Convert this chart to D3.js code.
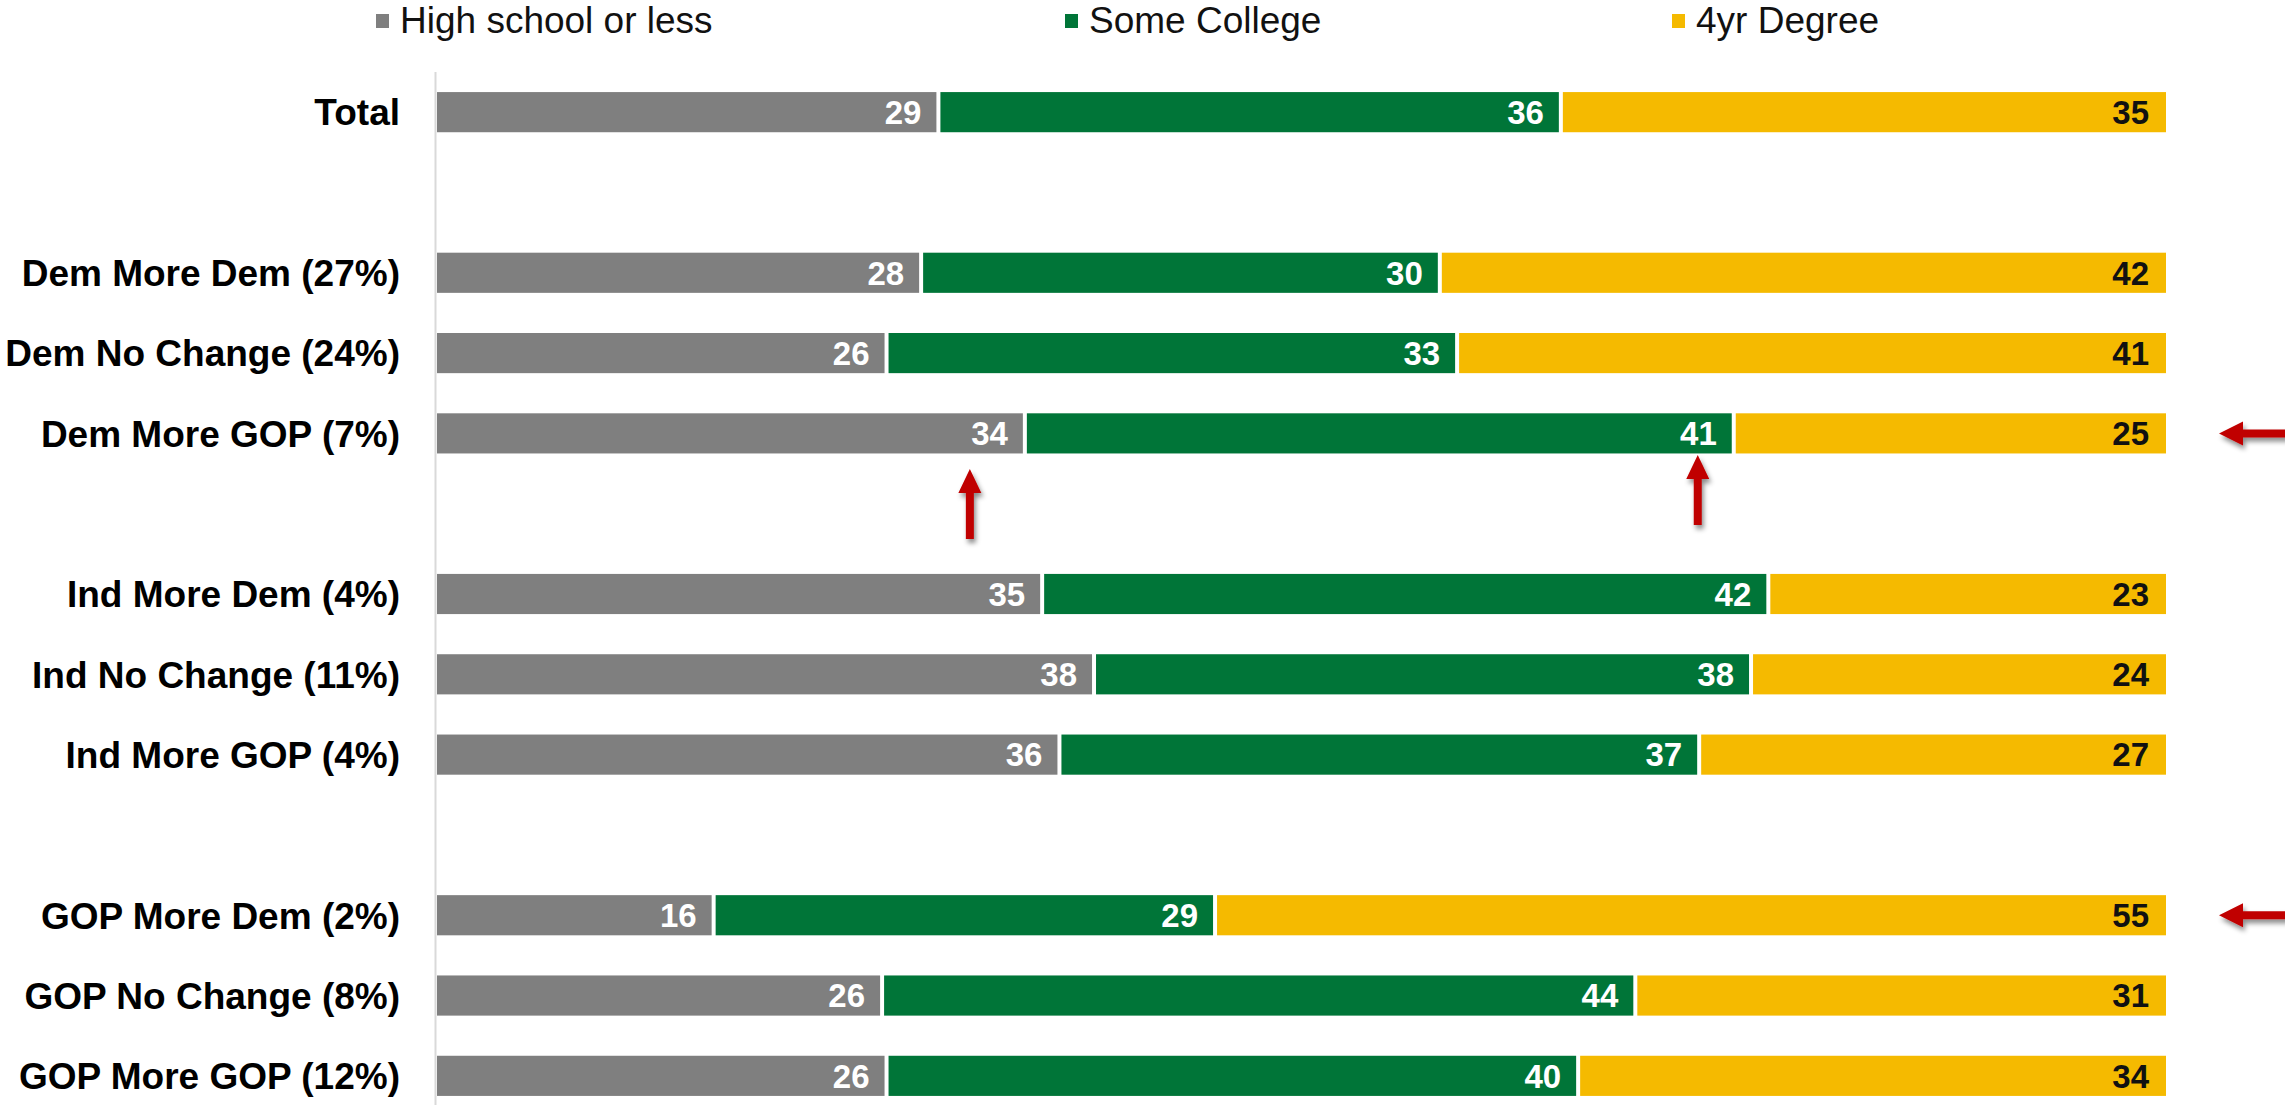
<!DOCTYPE html>
<html>
<head>
<meta charset="utf-8">
<script src="https://cdn.jsdelivr.net/npm/d3@7"></script>
<style>
  html, body { margin: 0; padding: 0; background: #fff; }
  svg { display: block; font-family: Arial, "Liberation Sans", Helvetica, sans-serif; }
</style>
</head>
<body>
<svg id="chart" width="2285" height="1105"></svg>
<script>
// ---- data ----
const categories = [
  "Total", "",
  "Dem More Dem (27%)", "Dem No Change (24%)", "Dem More GOP (7%)", " ",
  "Ind More Dem (4%)", "Ind No Change (11%)", "Ind More GOP (4%)", "  ",
  "GOP More Dem (2%)", "GOP No Change (8%)", "GOP More GOP (12%)"
];
const seriesNames = ["High school or less", "Some College", "4yr Degree"];
const highSchool = [29, null, 28, 26, 34, null, 35, 38, 36, null, 16, 26, 26];
const someCollege = [36, null, 30, 33, 41, null, 42, 38, 37, null, 29, 44, 40];
const fourYear   = [35, null, 42, 41, 25, null, 23, 24, 27, null, 55, 31, 34];
const seriesColors = ["#7F7F7F", "#007538", "#F5BA00"];
const labelColors = ["#ffffff", "#ffffff", "#111111"];
// annotation arrows (row, segment index)
const upArrows = [
  { row: "Dem More GOP (7%)", seg: 0, dx: -55, top: 469 },
  { row: "Dem More GOP (7%)", seg: 1, dx: -36, top: 455 }
];
const leftArrows = ["Dem More GOP (7%)", "GOP More Dem (2%)"];

// ---- layout ----
const svg = d3.select("#chart");
const W = 2285, H = 1105;
const x0 = 437, x1 = 2166;
const x = d3.scaleLinear().domain([0, 1]).range([x0, x1]);
const y = d3.scaleBand().domain(categories).range([72, 1116]).paddingInner(0.5).paddingOuter(0.25);

const defs = svg.append("defs");
const f = defs.append("filter").attr("id", "shadow").attr("x", "-50%").attr("y", "-50%").attr("width", "200%").attr("height", "200%");
f.append("feDropShadow").attr("dx", 2).attr("dy", 4).attr("stdDeviation", 2.5).attr("flood-color", "#000").attr("flood-opacity", 0.45);

// axis line
svg.append("line")
  .attr("x1", 435.5).attr("x2", 435.5)
  .attr("y1", 72).attr("y2", H)
  .attr("stroke", "#d9d9d9").attr("stroke-width", 2);

// rows data
const rows = categories.map((c, i) => {
  const vals = [highSchool[i], someCollege[i], fourYear[i]];
  if (vals[0] == null) return null;
  const total = d3.sum(vals);
  let cum = 0;
  const segs = vals.map((v, k) => {
    const s = { cat: c, k, v, start: cum / total, end: (cum + v) / total };
    cum += v;
    return s;
  });
  return { cat: c, segs };
}).filter(d => d);

const rowG = svg.append("g").selectAll("g").data(rows).join("g");

rowG.selectAll("rect").data(d => d.segs).join("rect")
  .attr("x", d => x(d.start) + (d.k > 0 ? 2 : 0))
  .attr("width", d => x(d.end) - x(d.start) - (d.k > 0 ? 2 : 0) - (d.k < 2 ? 2 : 0))
  .attr("y", d => y(d.cat))
  .attr("height", y.bandwidth())
  .attr("fill", d => seriesColors[d.k]);

rowG.selectAll("text.val").data(d => d.segs).join("text")
  .attr("class", "val")
  .attr("x", d => x(d.end) - 17)
  .attr("y", d => y(d.cat) + y.bandwidth() / 2)
  .attr("dy", "0.36em")
  .attr("text-anchor", "end")
  .attr("font-size", 33)
  .attr("font-weight", "bold")
  .attr("fill", d => labelColors[d.k])
  .text(d => d.v);

// category labels
svg.append("g").selectAll("text").data(rows).join("text")
  .attr("x", 400)
  .attr("y", d => y(d.cat) + y.bandwidth() / 2)
  .attr("dy", "0.36em")
  .attr("text-anchor", "end")
  .attr("font-size", 37)
  .attr("font-weight", "bold")
  .attr("fill", "#000")
  .text(d => d.cat);

// legend
const legendX = [376, 1065, 1672];
const lg = svg.append("g").selectAll("g").data(seriesNames).join("g")
  .attr("transform", (d, i) => `translate(${legendX[i]},0)`);
lg.append("rect").attr("x", 0).attr("y", 14).attr("width", 13).attr("height", 14)
  .attr("fill", (d, i) => seriesColors[i]);
lg.append("text").attr("x", 24).attr("y", 33)
  .attr("font-size", 37).attr("fill", "#111")
  .text(d => d);

// arrows
const red = "#C00000";
const ag = svg.append("g").attr("filter", "url(#shadow)");
upArrows.forEach(a => {
  const r = rows.find(rr => rr.cat === a.row);
  const seg = r.segs[a.seg];
  const cx = x(seg.end) + a.dx;
  const tip = a.top, bottom = a.top + 70;
  ag.append("path")
    .attr("d", `M${cx},${tip} L${cx + 11.5},${tip + 24} L${cx + 4},${tip + 24} L${cx + 4},${bottom} L${cx - 4},${bottom} L${cx - 4},${tip + 24} L${cx - 11.5},${tip + 24} Z`)
    .attr("fill", red);
});
leftArrows.forEach(c => {
  const cy = y(c) + y.bandwidth() / 2;
  const tip = 2219;
  ag.append("path")
    .attr("d", `M${tip},${cy} L${tip + 24},${cy - 12} L${tip + 24},${cy - 4} L${W + 10},${cy - 4} L${W + 10},${cy + 4} L${tip + 24},${cy + 4} L${tip + 24},${cy + 12} Z`)
    .attr("fill", red);
});
</script>
</body>
</html>
